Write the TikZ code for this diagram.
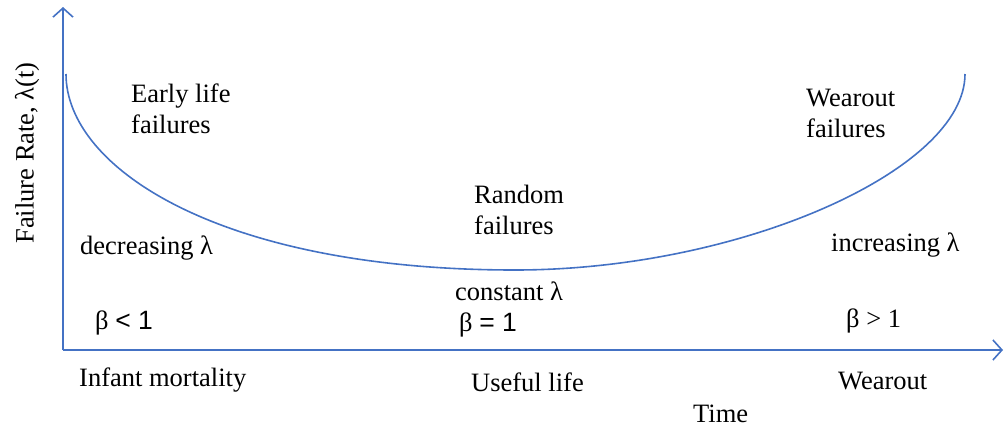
\documentclass[tikz,border=0pt]{standalone}
\usepackage{fontspec}
\setmainfont{Liberation Serif}
\newfontfamily\arialf{Liberation Sans}
\usetikzlibrary{arrows.meta}
\definecolor{axisblue}{RGB}{68,114,196}
\begin{document}
\begin{tikzpicture}[x=1pt,y=-1pt,
  lbl/.style={inner sep=0pt,anchor=west,font=\fontsize{26.5}{31}\selectfont,align=left},
  axisline/.style={draw=axisblue,line width=1.6pt,-{Straight Barb[length=9pt,width=20pt,line width=1.6pt]}},
  curveline/.style={draw=axisblue,line width=1.6pt}]
\useasboundingbox (0,0) rectangle (1005,429);
\coordinate (O) at (63,350);
\coordinate (ytop) at (63,7);
\coordinate (xend) at (1003,350);
\draw[axisline] (O) -- (ytop);
\draw[axisline] (O) -- (xend);
\coordinate (cstart) at (66,74);
\coordinate (cmin) at (515,270);
\coordinate (cend) at (965,74);
\draw[curveline] (cstart) .. controls (66,168) and (220,270) .. (cmin)
  .. controls (740,270) and (965,170) .. (cend);
\node[lbl] (early) at (131,109) {Early life\\failures};
\node[lbl] (wear) at (806,113) {Wearout\\failures};
\node[lbl] (rand) at (474,210) {Random\\failures};
\node[lbl] (dec) at (80,248) {decreasing λ};
\node[lbl] (inc) at (831,245) {increasing λ};
\node[lbl] (const) at (455,291) {constant λ};
\node[lbl] (b1) at (95,323) {β {\arialf< 1}};
\node[lbl] (b2) at (459,325) {β {\arialf= 1}};
\node[lbl] (b3) at (846,321) {β > 1};
\node[lbl] (infant) at (79,380) {Infant mortality};
\node[lbl] (useful) at (471,382) {Useful life};
\node[lbl] (wearout) at (838,381) {Wearout};
\node[lbl] (time) at (693,414) {Time};
\node[inner sep=0pt,rotate=90,font=\fontsize{26.5}{31}\selectfont] (ylab) at (27,153) {Failure Rate, λ(t)};
\end{tikzpicture}
\end{document}
